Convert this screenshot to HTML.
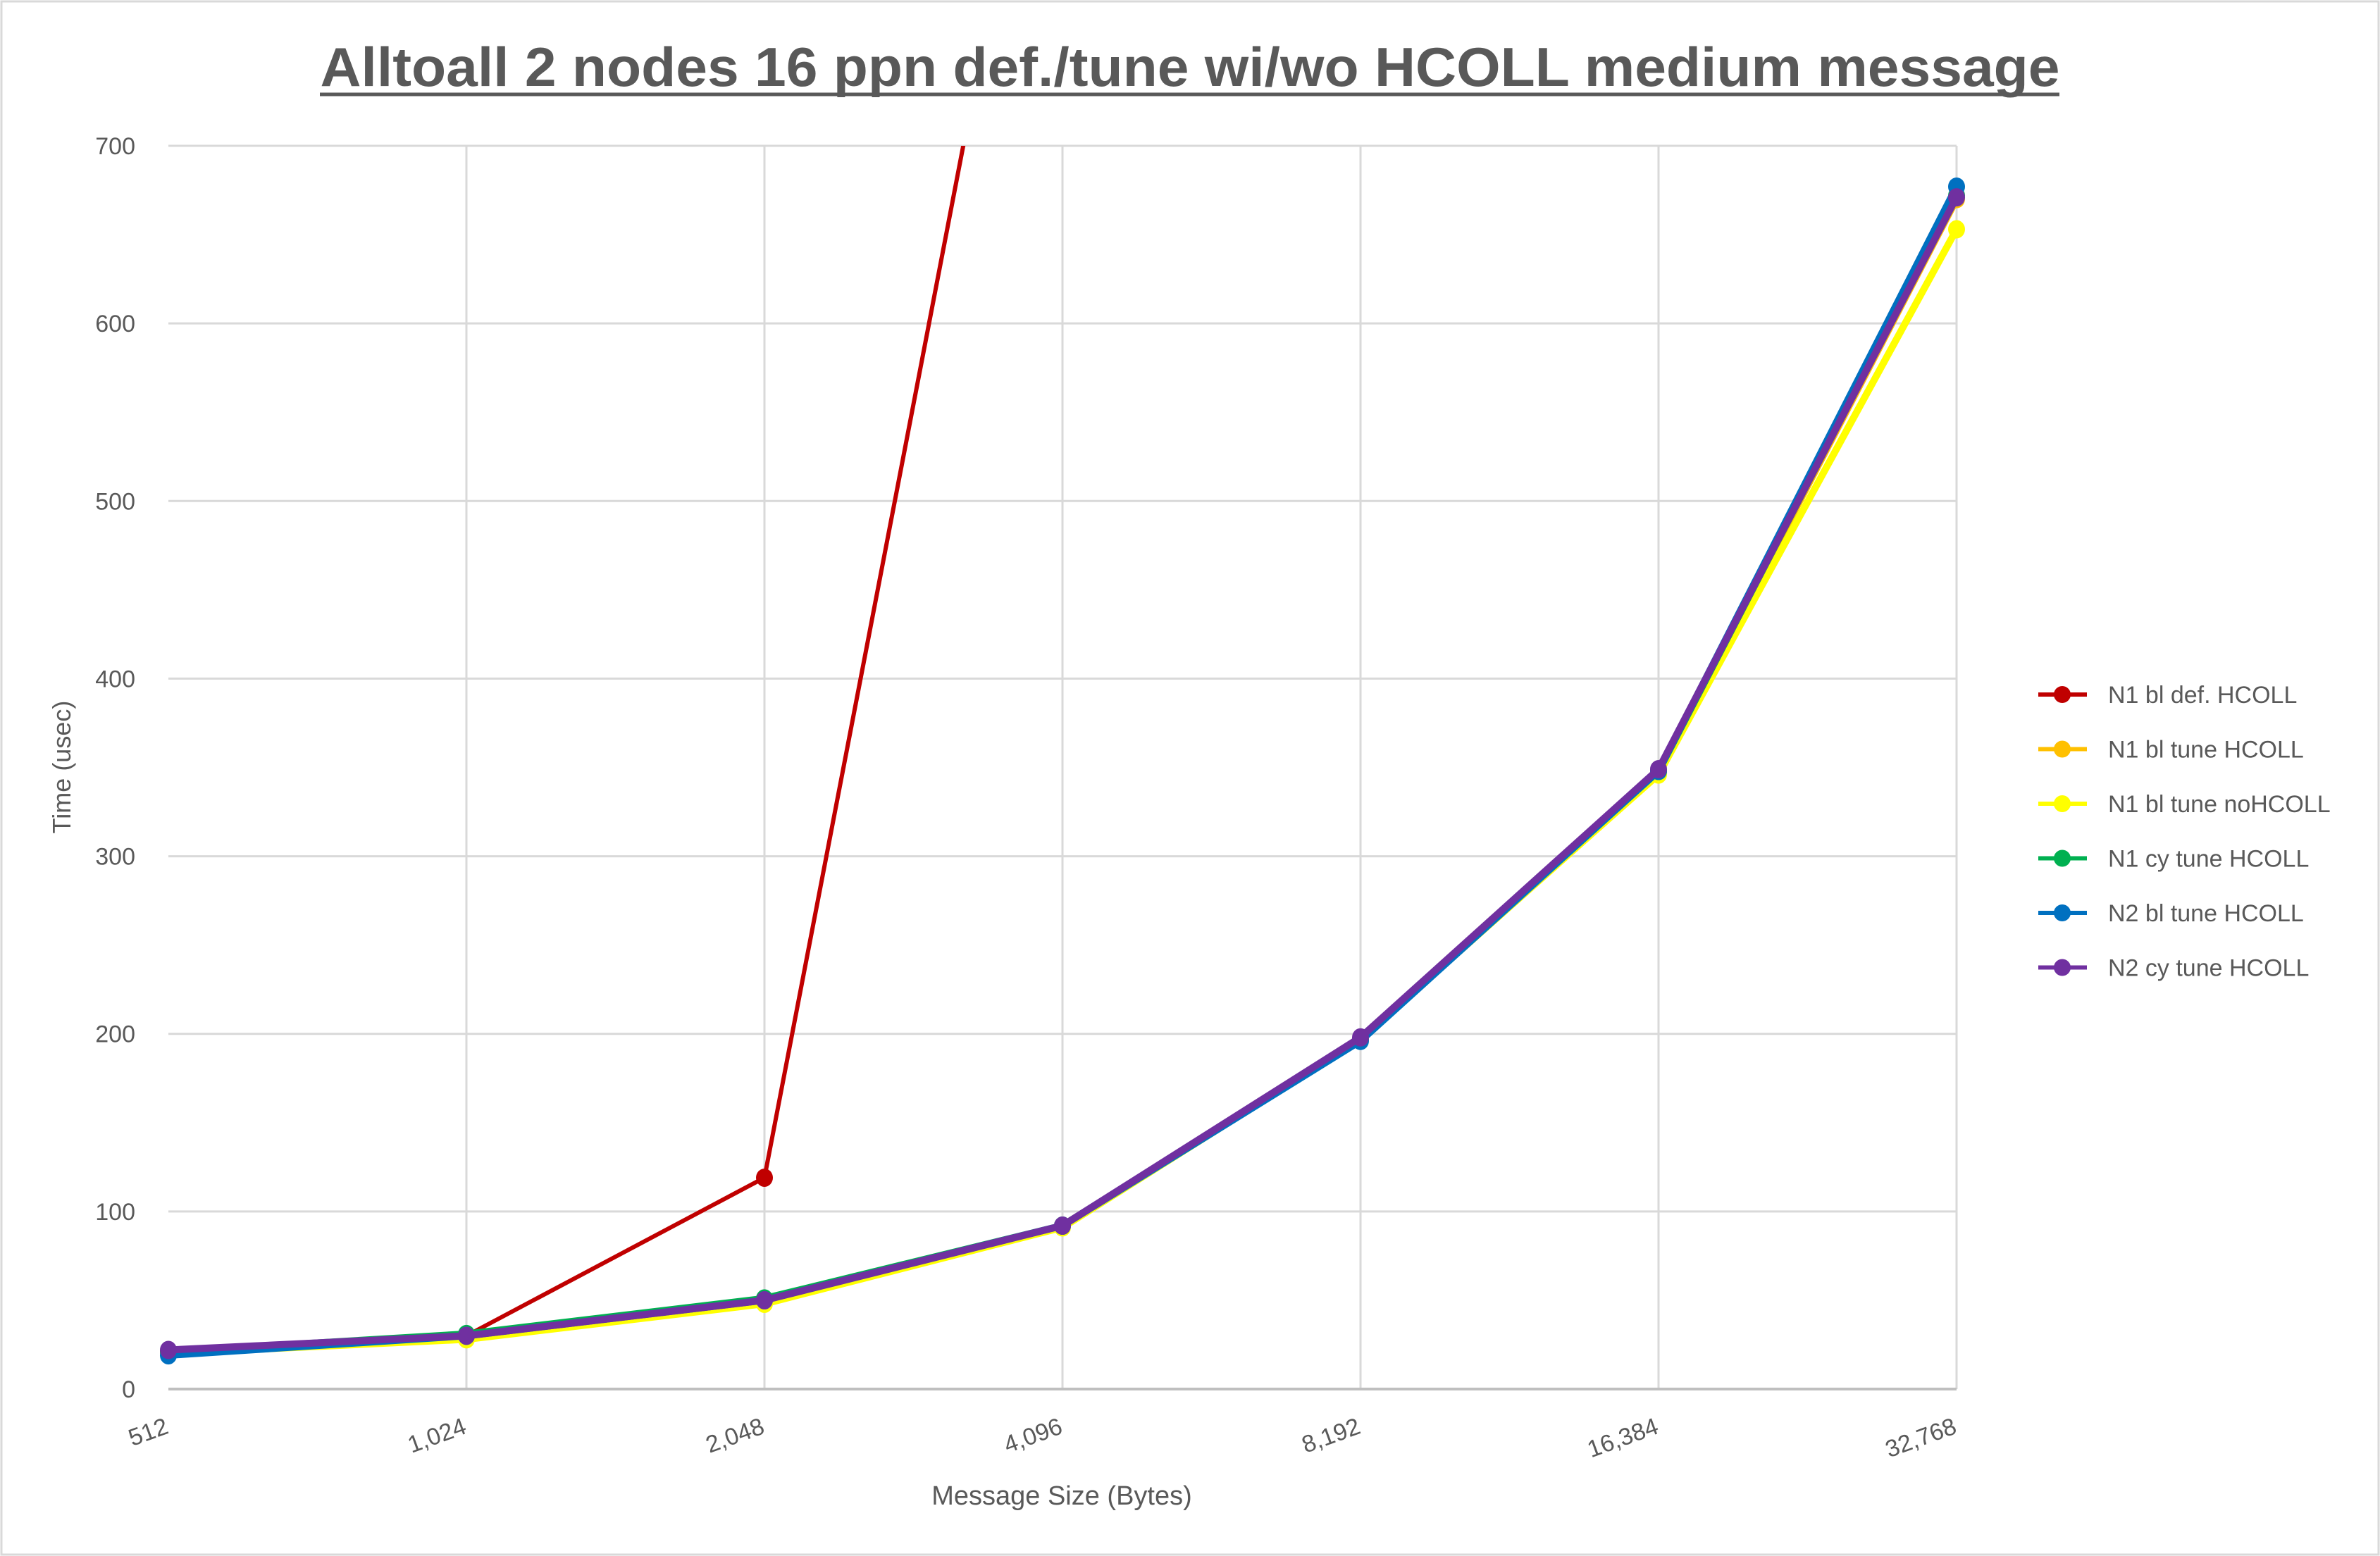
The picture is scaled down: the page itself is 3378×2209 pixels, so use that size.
<!DOCTYPE html>
<html><head><meta charset="utf-8"><style>
html,body{margin:0;padding:0;background:#fff}
svg{display:block}
text{font-family:"Liberation Sans Narrow","Liberation Sans",sans-serif;fill:#595959}
</style></head><body>
<svg id="chart" width="3378" height="2209" viewBox="0 0 3378 2209" xmlns="http://www.w3.org/2000/svg">
<rect x="2" y="2" width="3374" height="2205" fill="#fff" stroke="#d9d9d9" stroke-width="3"/>
<text x="1689" y="122" text-anchor="middle" font-size="78" font-weight="bold" textLength="2469" lengthAdjust="spacingAndGlyphs">Alltoall 2 nodes 16 ppn def./tune wi/wo HCOLL medium message</text>
<line x1="454" y1="134" x2="2923" y2="134" stroke="#595959" stroke-width="5"/>
<g id="grid"></g>
<g id="series"></g>
<g id="axes"></g>
<g id="legend"></g>
<text transform="translate(100,1089) rotate(-90)" text-anchor="middle" font-size="36">Time (usec)</text>
<text x="1507" y="2136" text-anchor="middle" font-size="38">Message Size (Bytes)</text>
</svg>
<script>
const categories = ["512","1,024","2,048","4,096","8,192","16,384","32,768"];
const yTicks = [0,100,200,300,400,500,600,700];
const seriesNames = ["N1 bl def. HCOLL","N1 bl tune HCOLL","N1 bl tune noHCOLL","N1 cy tune HCOLL","N2 bl tune HCOLL","N2 cy tune HCOLL"];
const seriesColors = ["#c00000","#ffc000","#ffff00","#00b050","#0070c0","#7030a0"];
const s1 = [21, 30, 119, 990, 2000, 4000, 8000];
const s2 = [21, 29, 49, 92, 197, 347, 670];
const s3 = [20, 28, 48, 91, 197, 346, 653];
const s4 = [21, 31, 51, 92, 197, 348, 672];
const s5 = [19, 30, 50, 92, 196, 348, 677];
const s6 = [22, 30, 50, 92, 198, 349, 671];
const seriesData = [s1,s2,s3,s4,s5,s6];

const NS = "http://www.w3.org/2000/svg";
const L=239, R=2777, T=207, B=1972, YMAX=700;
const xs = i => L + i*(R-L)/(categories.length-1);
const ys = v => B - v/YMAX*(B-T);
function mk(tag, attrs, parent){const e=document.createElementNS(NS,tag);for(const k in attrs)e.setAttribute(k,attrs[k]);parent.appendChild(e);return e;}
const grid=document.getElementById('grid'), axes=document.getElementById('axes'), ser=document.getElementById('series'), leg=document.getElementById('legend');

yTicks.forEach(v=>{
  if(v>0){const g=mk('line',{x1:L,x2:R,y1:ys(v),y2:ys(v),stroke:'#d9d9d9','stroke-width':3},grid);
  
  }
  const t=mk('text',{x:192,y:ys(v)+12,'text-anchor':'end','font-size':34},axes);
  t.textContent=v;
  
  
});
categories.forEach((c,i)=>{
  if(i>0){const g=mk('line',{x1:xs(i),x2:xs(i),y1:T,y2:B,stroke:'#d9d9d9','stroke-width':3},grid);
  
  }
  const t=mk('text',{transform:`translate(${xs(i)+2},${B+62}) rotate(-20)`,'text-anchor':'end','font-size':34},axes);
  t.textContent=c;
  
  
});
const xa=mk('line',{x1:L,x2:R,y1:B,y2:B,stroke:'#bfbfbf','stroke-width':4},axes);



mk('clipPath',{id:'pc'},ser).appendChild(document.createElementNS(NS,'rect'));
const cr=ser.querySelector('clipPath rect');cr.setAttribute('x',0);cr.setAttribute('y',T);cr.setAttribute('width',3378);cr.setAttribute('height',B-T+50);
const g=mk('g',{'clip-path':'url(#pc)'},ser);
seriesData.forEach((d,si)=>{
  const pts=d.map((v,i)=>xs(i)+','+ys(v)).join(' ');
  const pl=mk('polyline',{points:pts,fill:'none',stroke:seriesColors[si],'stroke-width':si==0?6:10,'stroke-linejoin':'round'},g);
  
  
  d.forEach((v,i)=>{
    const c=mk('ellipse',{cx:xs(i),cy:ys(v),rx:12,ry:13,fill:seriesColors[si]},g);
    
    
  });
});
seriesNames.forEach((n,i)=>{
  const y=986+i*77.5;
  const l=mk('line',{x1:2893,x2:2962,y1:y,y2:y,stroke:seriesColors[i],'stroke-width':6},leg);
  
  
  const c=mk('circle',{cx:2927,cy:y,r:12,fill:seriesColors[i]},leg);
  
  
  const t=mk('text',{x:2992,y:y+12,'font-size':34},leg);
  t.textContent=n;
  
  
});
</script>
</body></html>
